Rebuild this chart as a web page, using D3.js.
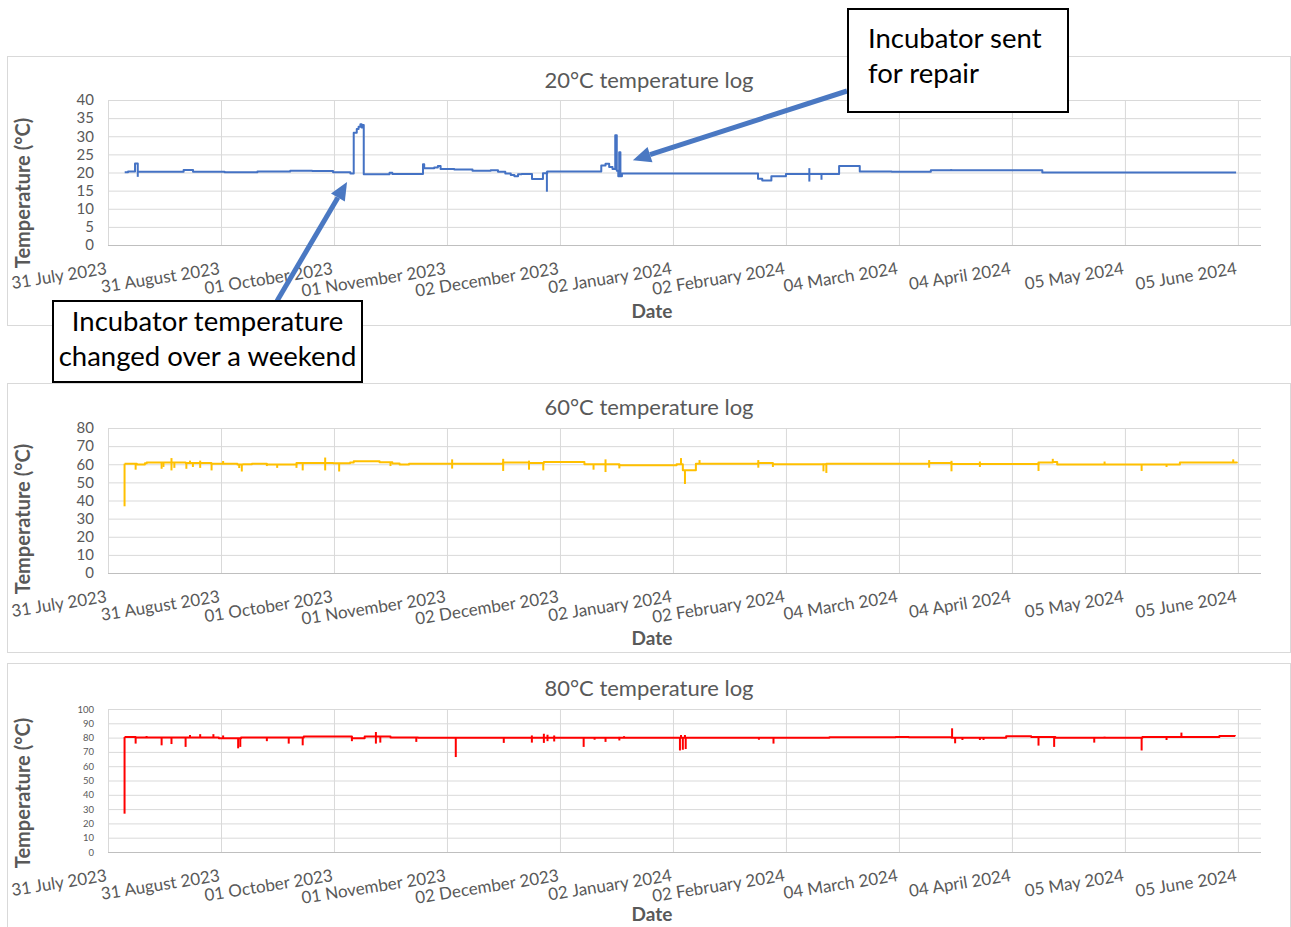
<!DOCTYPE html>
<html lang="en">
<head>
  <meta charset="UTF-8">
  <title>Incubator temperature logs</title>
  <script src="https://d3js.org/d3.v7.min.js"></script>
  <style>
    body { margin: 0; background: #fff; }
    svg { display: block; font-family: Lato, "Open Sans", sans-serif; }
  </style>
</head>
<body>
  <div id="chart"></div>
  <script>
    // x axis: Excel puts a gridline every 31 days from 31 July 2023
    const xStart = "2023-07-31 00:00";
    const xEnd = "2024-06-11 08:00";
    const tickDates = ["2023-07-31", "2023-08-31", "2023-10-01", "2023-11-01", "2023-12-02",
      "2024-01-02", "2024-02-02", "2024-03-04", "2024-04-04", "2024-05-05", "2024-06-05"];

    const yTicks20 = [0, 5, 10, 15, 20, 25, 30, 35, 40];
    const yTicks60 = [0, 10, 20, 30, 40, 50, 60, 70, 80];
    const yTicks80 = [0, 10, 20, 30, 40, 50, 60, 70, 80, 90, 100];

    // levels: [time, temperature] held until the next entry
    const log20Levels = [
      ["2023-08-04 14:00", 20.1], ["2023-08-05 12:00", 20.3], ["2023-08-07 10:00", 22.5],
      ["2023-08-08 04:00", 20.2], ["2023-08-20 18:00", 20.7], ["2023-08-23 08:00", 20.2],
      ["2023-09-01 00:00", 20.1], ["2023-09-10 00:00", 20.3], ["2023-09-19 00:00", 20.5],
      ["2023-09-25 00:00", 20.4], ["2023-09-30 18:00", 20.1], ["2023-10-05 12:00", 19.7],
      ["2023-10-06 10:00", 31.0], ["2023-10-07 06:00", 32.0], ["2023-10-07 18:00", 32.6],
      ["2023-10-08 06:00", 33.3], ["2023-10-08 14:00", 32.4], ["2023-10-08 20:00", 33.1],
      ["2023-10-09 04:00", 19.5], ["2023-10-16 06:00", 19.9], ["2023-10-17 00:00", 19.6],
      ["2023-10-25 10:00", 22.3], ["2023-10-25 18:00", 21.2], ["2023-10-28 12:00", 21.4],
      ["2023-10-29 12:00", 21.8], ["2023-10-30 06:00", 21.0], ["2023-11-03 00:00", 20.8],
      ["2023-11-08 00:00", 20.5], ["2023-11-13 00:00", 20.6], ["2023-11-15 00:00", 20.2],
      ["2023-11-17 00:00", 19.7], ["2023-11-18 12:00", 19.3], ["2023-11-19 12:00", 19.0],
      ["2023-11-20 12:00", 19.5], ["2023-11-21 12:00", 19.6], ["2023-11-24 08:00", 18.2],
      ["2023-11-27 08:00", 19.8], ["2023-11-28 12:00", 20.3], ["2023-12-13 08:00", 21.9],
      ["2023-12-14 12:00", 22.4], ["2023-12-15 12:00", 21.5], ["2023-12-16 10:00", 21.0],
      ["2023-12-17 04:00", 30.3], ["2023-12-17 14:00", 20.5], ["2023-12-18 00:00", 19.0],
      ["2023-12-18 06:00", 25.6], ["2023-12-18 14:00", 19.0], ["2023-12-19 00:00", 19.7],
      ["2024-01-25 08:00", 18.3], ["2024-01-26 12:00", 17.8], ["2024-01-29 00:00", 19.0],
      ["2024-02-02 00:00", 19.6], ["2024-02-16 14:00", 21.8], ["2024-02-22 06:00", 20.3],
      ["2024-03-02 00:00", 20.2], ["2024-03-12 18:00", 20.6], ["2024-04-12 08:00", 20.0],
      ["2024-06-04 12:00", 20.0]
    ];
    // spikes: [time, low, high]
    const log20Spikes = [
      ["2023-08-08 04:00", 18.8, 20.2], ["2023-11-28 10:00", 14.7, 20.3],
      ["2024-02-08 10:00", 17.5, 21.2], ["2024-02-11 18:00", 18.0, 19.6],
      ["2024-03-18 08:00", 20.6, 20.9]
    ];

    const log60Levels = [
      ["2023-08-04 13:00", 60.3], ["2023-08-07 22:00", 59.8], ["2023-08-10 03:00", 60.5],
      ["2023-08-10 15:00", 61.0], ["2023-08-21 07:00", 60.7], ["2023-08-28 09:00", 60.3],
      ["2023-09-04 12:00", 59.8], ["2023-09-06 00:00", 60.0], ["2023-09-08 12:00", 60.3],
      ["2023-09-12 14:00", 59.9], ["2023-09-20 17:00", 60.7], ["2023-09-30 19:00", 60.5],
      ["2023-10-05 10:00", 61.0], ["2023-10-06 10:00", 61.6], ["2023-10-13 12:00", 61.1],
      ["2023-10-17 00:00", 60.4], ["2023-10-19 00:00", 59.8], ["2023-10-21 14:00", 60.3],
      ["2023-11-16 10:00", 61.0], ["2023-11-23 12:00", 60.7], ["2023-11-27 14:00", 61.3],
      ["2023-12-08 17:00", 60.0], ["2023-12-18 07:00", 59.4], ["2024-01-03 00:00", 60.0],
      ["2024-01-04 17:00", 56.7], ["2024-01-08 07:00", 60.3], ["2024-01-25 10:00", 60.7],
      ["2024-01-29 10:00", 60.0], ["2024-02-13 02:00", 60.3], ["2024-03-12 07:00", 60.7],
      ["2024-03-18 10:00", 60.2], ["2024-04-11 07:00", 60.9], ["2024-04-15 05:00", 61.2],
      ["2024-04-16 10:00", 59.9], ["2024-05-20 02:00", 60.9], ["2024-06-04 17:00", 60.6]
    ];
    const log60Spikes = [
      ["2023-08-04 13:00", 36.8, 60.3], ["2023-08-07 14:00", 57.0, 60.3],
      ["2023-08-14 17:00", 57.5, 61.0], ["2023-08-15 05:00", 58.5, 61.0],
      ["2023-08-17 10:00", 56.6, 63.4], ["2023-08-18 05:00", 58.0, 61.0],
      ["2023-08-21 12:00", 57.5, 60.7], ["2023-08-22 12:00", 60.7, 62.0],
      ["2023-08-23 07:00", 58.5, 60.7], ["2023-08-25 07:00", 58.0, 62.0],
      ["2023-08-28 10:00", 56.6, 60.7], ["2023-08-31 14:00", 60.3, 61.8],
      ["2023-09-05 00:00", 57.9, 60.0], ["2023-09-05 17:00", 56.0, 60.0],
      ["2023-09-12 14:00", 59.0, 60.3], ["2023-09-15 10:00", 58.0, 60.0],
      ["2023-09-20 17:00", 58.0, 60.0], ["2023-09-22 10:00", 56.6, 60.7],
      ["2023-09-28 14:00", 56.6, 63.7], ["2023-10-02 10:00", 56.0, 60.5],
      ["2023-10-16 12:00", 59.0, 61.1], ["2023-11-02 10:00", 57.6, 62.7],
      ["2023-11-16 10:00", 56.3, 63.0], ["2023-11-23 12:00", 57.0, 62.0],
      ["2023-11-27 10:00", 56.6, 60.7], ["2023-12-11 05:00", 57.0, 60.0],
      ["2023-12-14 12:00", 55.7, 62.7], ["2023-12-18 07:00", 57.7, 60.0],
      ["2024-01-04 05:00", 60.0, 63.4], ["2024-01-05 07:00", 49.1, 56.7],
      ["2024-01-09 07:00", 60.3, 62.3], ["2024-01-25 10:00", 58.1, 62.3],
      ["2024-01-29 10:00", 58.5, 60.7], ["2024-02-12 07:00", 56.1, 60.3],
      ["2024-02-13 02:00", 55.2, 60.3], ["2024-03-12 07:00", 58.1, 62.3],
      ["2024-03-18 10:00", 56.1, 61.9], ["2024-03-26 05:00", 58.5, 61.5],
      ["2024-04-11 07:00", 56.3, 60.9], ["2024-04-15 05:00", 60.9, 63.0],
      ["2024-04-29 10:00", 60.0, 61.5], ["2024-05-09 14:00", 56.3, 60.0],
      ["2024-05-16 10:00", 58.5, 60.0], ["2024-06-03 17:00", 60.9, 62.7]
    ];

    const log80Levels = [
      ["2023-08-04 13:00", 80.4], ["2023-08-07 14:00", 80.0], ["2023-08-30 10:00", 79.6],
      ["2023-09-05 12:00", 80.0], ["2023-09-22 17:00", 80.7], ["2023-10-05 22:00", 79.6],
      ["2023-10-09 10:00", 80.7], ["2023-10-16 12:00", 80.0], ["2023-10-24 02:00", 79.9],
      ["2024-02-13 22:00", 80.2], ["2024-03-03 02:00", 80.4], ["2024-03-06 17:00", 80.2],
      ["2024-03-18 10:00", 79.9], ["2024-04-02 10:00", 80.9], ["2024-04-09 07:00", 80.5],
      ["2024-04-15 22:00", 79.9], ["2024-05-09 19:00", 80.5], ["2024-05-30 22:00", 81.2],
      ["2024-06-04 05:00", 80.9]
    ];
    const log80Spikes = [
      ["2023-08-04 13:00", 26.8, 80.4], ["2023-08-07 14:00", 75.8, 80.4],
      ["2023-08-10 14:00", 80.0, 81.1], ["2023-08-14 17:00", 74.6, 80.0],
      ["2023-08-17 10:00", 75.5, 80.0], ["2023-08-21 07:00", 73.5, 80.0],
      ["2023-08-22 12:00", 80.0, 81.8], ["2023-08-25 07:00", 80.0, 82.4],
      ["2023-08-28 22:00", 80.0, 82.4], ["2023-08-31 14:00", 79.6, 81.5],
      ["2023-09-04 17:00", 72.5, 79.6], ["2023-09-05 07:00", 73.5, 79.6],
      ["2023-09-12 14:00", 77.5, 80.0], ["2023-09-18 14:00", 75.8, 80.0],
      ["2023-09-22 10:00", 74.6, 80.0], ["2023-10-05 22:00", 77.5, 80.7],
      ["2023-10-12 12:00", 75.8, 83.9], ["2023-10-13 17:00", 76.5, 80.7],
      ["2023-10-23 14:00", 77.0, 80.0], ["2023-11-03 10:00", 66.4, 79.9],
      ["2023-11-16 14:00", 76.3, 79.9], ["2023-11-24 07:00", 76.5, 81.5],
      ["2023-11-27 14:00", 76.3, 82.7], ["2023-11-28 14:00", 77.5, 82.0],
      ["2023-11-30 10:00", 77.3, 81.5], ["2023-12-08 12:00", 73.5, 79.9],
      ["2023-12-11 12:00", 78.5, 79.9], ["2023-12-14 12:00", 77.0, 79.9],
      ["2023-12-18 07:00", 78.0, 80.5], ["2023-12-19 14:00", 79.9, 81.0],
      ["2024-01-03 22:00", 71.0, 79.9], ["2024-01-04 05:00", 79.9, 81.8],
      ["2024-01-04 17:00", 71.5, 79.9], ["2024-01-05 07:00", 79.9, 81.8],
      ["2024-01-05 12:00", 72.0, 79.9], ["2024-01-25 14:00", 78.5, 79.9],
      ["2024-01-29 14:00", 75.8, 79.9], ["2024-03-18 14:00", 79.9, 86.5],
      ["2024-03-19 10:00", 76.0, 79.9], ["2024-03-21 10:00", 78.3, 79.9],
      ["2024-03-26 05:00", 78.3, 79.9], ["2024-03-27 05:00", 78.3, 79.9],
      ["2024-04-11 07:00", 74.4, 80.5], ["2024-04-15 14:00", 73.5, 80.5],
      ["2024-04-26 14:00", 76.5, 79.9], ["2024-04-29 10:00", 79.9, 80.6],
      ["2024-05-09 14:00", 71.0, 79.9], ["2024-05-16 10:00", 78.3, 80.5],
      ["2024-05-20 12:00", 80.5, 83.5]
    ];

    const parse = d3.timeParse("%Y-%m-%d %H:%M");
    const parseDay = d3.timeParse("%Y-%m-%d");
    const fmt = d3.timeFormat("%d %B %Y");
    const textGrey = "#595959";

    const plotLeft = 108, plotRight = 1261;

    const panels = [
      { title: "20°C temperature log", levels: log20Levels, spikes: log20Spikes, ticks: yTicks20,
        color: "#4472C4", boxTop: 56, boxBottom: 325, plotTop: 100, plotBottom: 245,
        titleY: 88, dateY: 318, yLabelY: 193, tickFont: 15 },
      { title: "60°C temperature log", levels: log60Levels, spikes: log60Spikes, ticks: yTicks60,
        color: "#FFC000", boxTop: 383, boxBottom: 652, plotTop: 428, plotBottom: 573,
        titleY: 415, dateY: 645, yLabelY: 519, tickFont: 15 },
      { title: "80°C temperature log", levels: log80Levels, spikes: log80Spikes, ticks: yTicks80,
        color: "#FF0000", boxTop: 663, boxBottom: 940, plotTop: 709, plotBottom: 852,
        titleY: 696, dateY: 921, yLabelY: 793, tickFont: 9.5 }
    ];

    const svg = d3.select("#chart").append("svg")
      .attr("width", 1291)
      .attr("height", 927);

    const x = d3.scaleTime()
      .domain([parse(xStart), parse(xEnd)])
      .range([plotLeft, plotRight]);

    panels.forEach(p => {
      const g = svg.append("g");

      g.append("rect")
        .attr("x", 7.5)
        .attr("y", p.boxTop + 0.5)
        .attr("width", 1283)
        .attr("height", p.boxBottom - p.boxTop)
        .attr("fill", "#fff")
        .attr("stroke", "#d9d9d9");

      const y = d3.scaleLinear()
        .domain([0, d3.max(p.ticks)])
        .range([p.plotBottom, p.plotTop]);

      // y axis + horizontal gridlines
      const yAxis = g.append("g")
        .attr("transform", `translate(${plotLeft},0)`)
        .call(d3.axisLeft(y).tickValues(p.ticks).tickSize(-(plotRight - plotLeft)).tickPadding(14));
      yAxis.select(".domain").remove();
      yAxis.selectAll("line").attr("stroke", "#d9d9d9");
      yAxis.selectAll("text")
        .attr("fill", textGrey)
        .style("font-size", p.tickFont + "px")
        .style("font-family", "Lato, sans-serif");

      // x axis + vertical gridlines
      const xAxis = g.append("g")
        .attr("transform", `translate(0,${p.plotBottom})`)
        .call(d3.axisBottom(x)
          .tickValues(tickDates.map(parseDay))
          .tickSize(-(p.plotBottom - p.plotTop))
          .tickFormat(fmt));
      xAxis.select(".domain").remove();
      xAxis.selectAll("line").attr("stroke", "#d9d9d9");
      xAxis.selectAll("text")
        .attr("x", 0)
        .attr("y", 0)
        .attr("dy", 0)
        .attr("text-anchor", "end")
        .attr("transform", "translate(-1,29) rotate(-9)")
        .attr("fill", textGrey)
        .style("font-size", "17px")
        .style("font-family", "Lato, sans-serif");

      g.append("line")
        .attr("x1", plotLeft)
        .attr("x2", plotRight)
        .attr("y1", p.plotBottom + 0.5)
        .attr("y2", p.plotBottom + 0.5)
        .attr("stroke", "#bfbfbf");

      // series
      const line = d3.line()
        .x(d => x(parse(d[0])))
        .y(d => y(d[1]))
        .curve(d3.curveStepAfter);

      g.append("path")
        .datum(p.levels)
        .attr("d", line)
        .attr("fill", "none")
        .attr("stroke", p.color)
        .attr("stroke-width", 2)
        .attr("stroke-linejoin", "round");

      g.selectAll(".spike")
        .data(p.spikes)
        .enter().append("line")
        .attr("class", "spike")
        .attr("x1", d => x(parse(d[0])))
        .attr("x2", d => x(parse(d[0])))
        .attr("y1", d => y(d[1]))
        .attr("y2", d => y(d[2]))
        .attr("stroke", p.color)
        .attr("stroke-width", 2);

      // titles
      g.append("text")
        .attr("x", 649)
        .attr("y", p.titleY)
        .attr("text-anchor", "middle")
        .attr("fill", textGrey)
        .style("font-size", "22px")
        .text(p.title);

      g.append("text")
        .attr("x", 652)
        .attr("y", p.dateY)
        .attr("text-anchor", "middle")
        .attr("fill", textGrey)
        .style("font-size", "19px")
        .style("font-weight", "bold")
        .text("Date");

      g.append("text")
        .attr("transform", `translate(30,${p.yLabelY}) rotate(-90)`)
        .attr("text-anchor", "middle")
        .attr("fill", textGrey)
        .style("font-size", "20px")
        .style("font-weight", "bold")
        .text("Temperature (°C)");
    });

    // annotations (tips point at the 20°C log)
    const yTop = d3.scaleLinear().domain([0, 40]).range([245, 100]);
    const notes = [
      { lines: ["Incubator sent", "for repair"], box: [848, 9, 220, 103], anchor: "start", tx: 868,
        baselines: [48, 83], tail: [847, 91], tip: ["2023-12-22 00:00", 23.4] },
      { lines: ["Incubator temperature", "changed over a weekend"], box: [53, 301, 309, 81], anchor: "middle", tx: 207.5,
        baselines: [331, 366], tail: [277, 301], tip: ["2023-10-04 14:00", 17.4] }
    ];

    notes.forEach(n => {
      const tx = x(parse(n.tip[0])), ty = yTop(n.tip[1]);
      const dx = tx - n.tail[0], dy = ty - n.tail[1];
      const len = Math.hypot(dx, dy), ux = dx / len, uy = dy / len;
      const headLen = 18, headHalf = 8;
      const bx = tx - ux * headLen, by = ty - uy * headLen;

      svg.append("line")
        .attr("x1", n.tail[0]).attr("y1", n.tail[1])
        .attr("x2", bx).attr("y2", by)
        .attr("stroke", "#4a78c2")
        .attr("stroke-width", 5);

      svg.append("path")
        .attr("d", `M${tx},${ty}L${bx - uy * headHalf},${by + ux * headHalf}L${bx + uy * headHalf},${by - ux * headHalf}Z`)
        .attr("fill", "#4a78c2");

      svg.append("rect")
        .attr("x", n.box[0]).attr("y", n.box[1])
        .attr("width", n.box[2]).attr("height", n.box[3])
        .attr("fill", "#fff")
        .attr("stroke", "#000")
        .attr("stroke-width", 2);

      n.lines.forEach((t, i) => {
        svg.append("text")
          .attr("x", n.tx)
          .attr("y", n.baselines[i])
          .attr("text-anchor", n.anchor)
          .attr("fill", "#000")
          .style("font-size", "27.5px")
          .text(t);
      });
    });
  </script>
</body>
</html>
